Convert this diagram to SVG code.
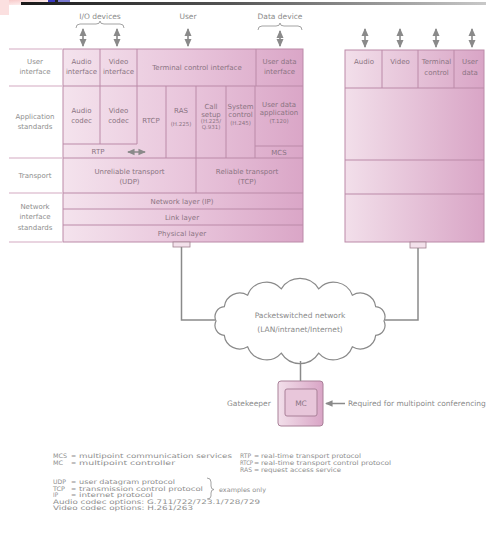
<svg xmlns="http://www.w3.org/2000/svg" width="486" height="550" viewBox="0 0 486 550">
<defs>
<linearGradient id="pinkH" x1="0" y1="0" x2="1" y2="0">
<stop offset="0" stop-color="#f4e3ed"/>
<stop offset="0.5" stop-color="#e9c6dc"/>
<stop offset="1" stop-color="#daa6c7"/>
</linearGradient>
<linearGradient id="pinkR" x1="0" y1="0" x2="1" y2="0">
<stop offset="0" stop-color="#f2dfea"/>
<stop offset="1" stop-color="#d9a5c6"/>
</linearGradient>
<linearGradient id="topbar" x1="0" y1="0" x2="1" y2="0">
<stop offset="0" stop-color="#1a1a1a"/>
<stop offset="0.45" stop-color="#555"/>
<stop offset="1" stop-color="#c8c8c8"/>
</linearGradient>
<linearGradient id="corner" x1="0" y1="0" x2="1" y2="1">
<stop offset="0" stop-color="#f7c3c3"/>
<stop offset="1" stop-color="#ffffff"/>
</linearGradient>
<marker id="ah" viewBox="0 0 8 8" refX="7" refY="4" markerWidth="5" markerHeight="5" orient="auto-start-reverse">
<path d="M0,0.5 L8,4 L0,7.5 z" fill="#8a8a8a"/>
</marker>
<style>
.t{font-family:"DejaVu Sans",sans-serif;fill:#8a7482;font-size:7px;text-anchor:middle}
.l{font-family:"DejaVu Sans",sans-serif;fill:#8e8e8e;font-size:7px;text-anchor:middle}
.g{font-family:"DejaVu Sans",sans-serif;fill:#8a8a8a;font-size:7.5px}
.gm{font-family:"DejaVu Sans",sans-serif;fill:#8a8a8a;font-size:7.5px;text-anchor:middle}
.k{font-family:"DejaVu Sans",sans-serif;fill:#8e8e8e;font-size:6.2px}
.s{font-size:5.5px}
.grid{stroke:#bb8aa8;stroke-width:1;fill:none}
.lab{stroke:#e2c6d6;stroke-width:1.5}
.conn{stroke:#8a8a8a;stroke-width:1.5;fill:none}
.dbl{stroke:#8a8a8a;stroke-width:1.6;fill:none;marker-start:url(#ah);marker-end:url(#ah)}
.brace{stroke:#999;stroke-width:0.9;fill:none}
</style>
</defs>
<rect width="486" height="550" fill="#ffffff"/>
<!-- slide decoration -->
<g id="decor">
<rect x="0" y="0" width="48" height="5" fill="url(#corner)"/>
<rect x="0" y="0" width="9" height="15" fill="#fbe0e0"/>
<rect x="48" y="0" width="7" height="3" fill="#3838c0"/>
<rect x="55" y="0" width="3" height="3" fill="#222"/>
<rect x="58" y="0" width="12" height="3" fill="#7a7ad0"/>
<rect x="21" y="2" width="465" height="3" fill="url(#topbar)"/>
</g>

<!-- top labels -->
<g id="top-labels">
<text class="gm" x="100" y="19">I/O devices</text>
<text class="gm" x="188" y="19">User</text>
<text class="gm" x="280" y="19">Data device</text>
<path class="brace" d="M76,28 Q76,24 80,24 L96,24 Q100,24 100,21 Q100,24 104,24 L120,24 Q124,24 124,28"/>
<path class="brace" d="M258,30 Q258,26 262,26 L276,26 Q280,26 280,23 Q280,26 284,26 L298,26 Q302,26 302,30"/>
</g>

<!-- layer labels column -->
<g id="layer-labels">
<line class="lab" x1="9" y1="49" x2="62" y2="49"/>
<line class="lab" x1="9" y1="86" x2="62" y2="86"/>
<line class="lab" x1="9" y1="158" x2="62" y2="158"/>
<line class="lab" x1="9" y1="193" x2="62" y2="193"/>
<line class="lab" x1="9" y1="242" x2="62" y2="242"/>
<text class="l" x="35" y="64">User</text>
<text class="l" x="35" y="74">interface</text>
<text class="l" x="35" y="119">Application</text>
<text class="l" x="35" y="129">standards</text>
<text class="l" x="35" y="178">Transport</text>
<text class="l" x="35" y="209">Network</text>
<text class="l" x="35" y="219">interface</text>
<text class="l" x="35" y="230">standards</text>
</g>

<!-- left terminal stack -->
<g id="terminal-left">
<rect x="63" y="49" width="240" height="193" fill="url(#pinkH)" stroke="#bb8aa8" stroke-width="1"/>
<path class="grid" d="M63,86 H303 M100,49 V144 M137,49 V144 M256,49 V86 M63,144 H137 M166,86 V158 M196,86 V193 M226,86 V158 M255,86 V158 M255,146 H303 M63,158 H303 M63,193 H303 M63,209 H303 M63,225 H303"/>
<text class="t" x="81.5" y="64">Audio</text>
<text class="t" x="81.5" y="74">interface</text>
<text class="t" x="118.5" y="64">Video</text>
<text class="t" x="118.5" y="74">interface</text>
<text class="t" x="197" y="70">Terminal control interface</text>
<text class="t" x="279.5" y="64">User data</text>
<text class="t" x="279.5" y="74">interface</text>
<text class="t" x="81.5" y="113">Audio</text>
<text class="t" x="81.5" y="123">codec</text>
<text class="t" x="118.5" y="113">Video</text>
<text class="t" x="118.5" y="123">codec</text>
<text class="t" x="151" y="123">RTCP</text>
<text class="t" x="181" y="113">RAS</text>
<text class="t s" x="181" y="126">(H.225)</text>
<text class="t" x="211" y="109">Call</text>
<text class="t" x="211" y="117">setup</text>
<text class="t s" x="211" y="123">(H.225/</text>
<text class="t s" x="211" y="129">Q.931)</text>
<text class="t" x="240.5" y="109">System</text>
<text class="t" x="240.5" y="117">control</text>
<text class="t s" x="240.5" y="125">(H.245)</text>
<text class="t" x="279" y="107">User data</text>
<text class="t" x="279" y="115">application</text>
<text class="t s" x="279" y="123">(T.120)</text>
<text class="t" x="98" y="154">RTP</text>
<line class="conn" x1="128" y1="152" x2="145" y2="152" stroke-width="1" style="marker-start:url(#ah);marker-end:url(#ah)"/>
<text class="t" x="279" y="154.5">MCS</text>
<text class="t" x="129.5" y="173.5">Unreliable transport</text>
<text class="t" x="129.5" y="183.5">(UDP)</text>
<text class="t" x="247" y="173.5">Reliable transport</text>
<text class="t" x="247" y="183.5">(TCP)</text>
<text class="t" x="182" y="203.5">Network layer (IP)</text>
<text class="t" x="182" y="219.5">Link layer</text>
<text class="t" x="182" y="236">Physical layer</text>
<rect x="173" y="242" width="17" height="5" fill="#f3e1eb" stroke="#a08090" stroke-width="0.8"/>
</g>

<!-- right terminal stack -->
<g id="terminal-right">
<rect x="345" y="50" width="139" height="192" fill="url(#pinkR)" stroke="#bb8aa8" stroke-width="1"/>
<path class="grid" d="M345,88 H484 M382,50 V88 M418,50 V88 M454,50 V88 M345,160 H484 M345,194 H484"/>
<text class="t" x="364" y="64">Audio</text>
<text class="t" x="400" y="64">Video</text>
<text class="t" x="436.5" y="64">Terminal</text>
<text class="t" x="436.5" y="75">control</text>
<text class="t" x="470" y="64">User</text>
<text class="t" x="470" y="75">data</text>
<rect x="410" y="242" width="16" height="6" fill="#f3e1eb" stroke="#a08090" stroke-width="0.8"/>
</g>

<!-- cloud -->
<g id="network">
<path d="M384,321 A10,10 0 0,1 375.68,335.32 A15.5,15.5 0 0,1 352.37,346.8 A20,20 0 0,1 318.69,353.17 A22,22 0 0,1 281.31,353.17 A20,20 0 0,1 247.63,346.8 A15.5,15.5 0 0,1 224.32,335.32 A10,10 0 0,1 216,321 A10,10 0 0,1 224.32,306.68 A15.5,15.5 0 0,1 247.63,295.2 A20,20 0 0,1 281.31,288.83 A22,22 0 0,1 318.69,288.83 A20,20 0 0,1 352.37,295.2 A15.5,15.5 0 0,1 375.68,306.68 A10,10 0 0,1 384,321 Z" fill="#ffffff" stroke="#8a8a8a" stroke-width="1.2"/>
<text class="gm" x="300" y="318">Packetswitched network</text>
<text class="gm" x="300" y="332">(LAN/intranet/Internet)</text>
</g>

<!-- gatekeeper -->
<g id="gatekeeper">
<rect x="278" y="381" width="45" height="45" rx="3" fill="url(#pinkR)" stroke="#a98098" stroke-width="1"/>
<rect x="285" y="389" width="32" height="27" rx="2" fill="#e8c6da" stroke="#a98098" stroke-width="1"/>
<text class="t" x="301" y="405.5" style="font-size:7.5px">MC</text>
<text class="g" x="227" y="406">Gatekeeper</text>
<text class="g" x="348" y="406">Required for multipoint conferencing</text>
</g>

<!-- connectors -->
<g id="connectors">
<polyline class="conn" points="181.5,247 181.5,320 215,320"/>
<polyline class="conn" points="418,248 418,320 385,320"/>
<line class="conn" x1="300.5" y1="361" x2="300.5" y2="381"/>
<line class="conn" x1="345" y1="403.5" x2="326" y2="403.5" style="marker-end:url(#ah)"/>
<line class="dbl" x1="83" y1="29" x2="83" y2="46"/>
<line class="dbl" x1="117" y1="29" x2="117" y2="46"/>
<line class="dbl" x1="188" y1="29" x2="188" y2="46"/>
<line class="dbl" x1="280" y1="31" x2="280" y2="46"/>
<line class="dbl" x1="365" y1="29" x2="365" y2="47"/>
<line class="dbl" x1="400" y1="29" x2="400" y2="47"/>
<line class="dbl" x1="436" y1="29" x2="436" y2="47"/>
<line class="dbl" x1="472" y1="29" x2="472" y2="47"/>
</g>

<!-- legend -->
<g id="legend">
<text class="k" x="53" y="457.5" textLength="14" lengthAdjust="spacingAndGlyphs">MCS</text><text class="k" x="71" y="457.5">=</text><text class="k" x="79" y="457.5" textLength="153" lengthAdjust="spacingAndGlyphs">multipoint communication services</text>
<text class="k" x="53" y="464.5" textLength="10" lengthAdjust="spacingAndGlyphs">MC</text><text class="k" x="71" y="464.5">=</text><text class="k" x="79" y="464.5" textLength="96" lengthAdjust="spacingAndGlyphs">multipoint controller</text>
<text class="k" x="240" y="457.5" textLength="11" lengthAdjust="spacingAndGlyphs">RTP</text><text class="k" x="254" y="457.5">=</text><text class="k" x="261" y="457.5" textLength="100" lengthAdjust="spacingAndGlyphs">real-time transport protocol</text>
<text class="k" x="240" y="464.5" textLength="13" lengthAdjust="spacingAndGlyphs">RTCP</text><text class="k" x="254" y="464.5">=</text><text class="k" x="261" y="464.5" textLength="130" lengthAdjust="spacingAndGlyphs">real-time transport control protocol</text>
<text class="k" x="240" y="471.5" textLength="12" lengthAdjust="spacingAndGlyphs">RAS</text><text class="k" x="254" y="471.5">=</text><text class="k" x="261" y="471.5" textLength="80" lengthAdjust="spacingAndGlyphs">request access service</text>
<text class="k" x="53" y="483.5" textLength="13" lengthAdjust="spacingAndGlyphs">UDP</text><text class="k" x="71" y="483.5">=</text><text class="k" x="79" y="483.5" textLength="96" lengthAdjust="spacingAndGlyphs">user datagram protocol</text>
<text class="k" x="53" y="490.5" textLength="12" lengthAdjust="spacingAndGlyphs">TCP</text><text class="k" x="71" y="490.5">=</text><text class="k" x="79" y="490.5" textLength="124" lengthAdjust="spacingAndGlyphs">transmission control protocol</text>
<text class="k" x="53" y="497" textLength="5" lengthAdjust="spacingAndGlyphs">IP</text><text class="k" x="71" y="497">=</text><text class="k" x="79" y="497" textLength="74" lengthAdjust="spacingAndGlyphs">internet protocol</text>
<path class="brace" d="M207,478 Q211,478 211,482 L211,486 Q211,489.5 214,489.5 Q211,489.5 211,493 L211,496 Q211,499 207,499"/>
<text class="k" x="219" y="491.5" textLength="47" lengthAdjust="spacingAndGlyphs">examples only</text>
<text class="k" x="53" y="503.5" textLength="207" lengthAdjust="spacingAndGlyphs">Audio codec options: G.711/722/723.1/728/729</text>
<text class="k" x="53" y="510" textLength="140" lengthAdjust="spacingAndGlyphs">Video codec options: H.261/263</text>
</g>
</svg>
